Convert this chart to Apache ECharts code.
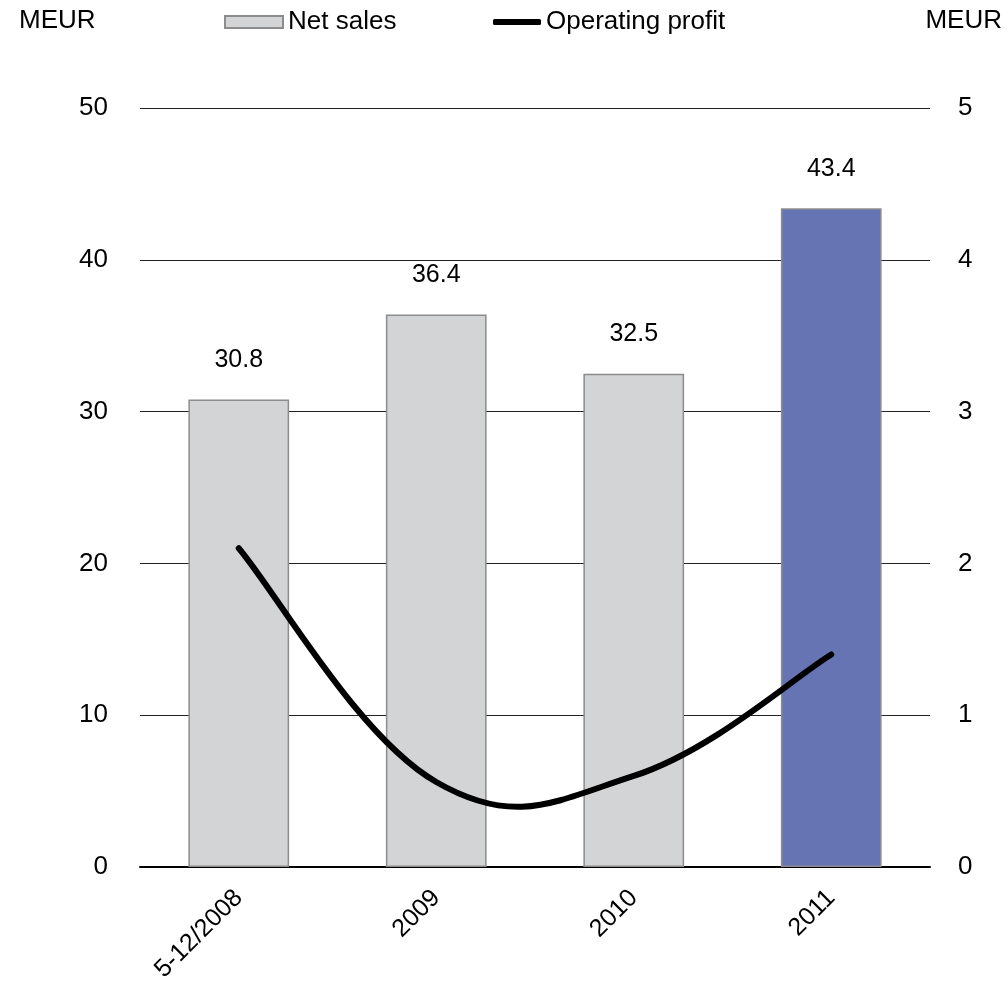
<!DOCTYPE html>
<html>
<head>
<meta charset="utf-8">
<script src="https://cdn.jsdelivr.net/npm/echarts@6/dist/echarts.min.js"></script>
<style>
  html, body { margin: 0; padding: 0; background: #fff; }
  #chart { width: 1008px; height: 985px; }
</style>
</head>
<body>
<div id="chart"></div>
<script>
// Net sales (left axis) and operating profit (right axis), MEUR
const categories = ['5-12/2008', '2009', '2010', '2011'];
const netSales = [30.8, 36.4, 32.5, 43.4];
const operatingProfit = [2.1, 0.56, 0.6, 1.4];
const leftTicks = { min: 0, max: 50, interval: 10 };
const rightTicks = { min: 0, max: 5, interval: 1 };

const FONT = '"Liberation Sans", Arial, sans-serif';
const BAR_GREY = '#d3d4d6';
const BAR_BLUE = '#6674b4';
const BAR_EDGE = '#8c8c8c';
const TENSION = 0.2;

// the latest year is drawn in blue, the rest in grey
const barData = netSales.map((v, i) => ({
  value: v,
  itemStyle: { color: i === netSales.length - 1 ? BAR_BLUE : BAR_GREY }
}));

// Smooth curve through the profit points (cardinal spline),
// built from pixel positions given by the cartesian coordinate system.
function smoothPath(pts) {
  let d = 'M' + pts[0][0] + ' ' + pts[0][1];
  for (let i = 0; i < pts.length - 1; i++) {
    const p0 = pts[Math.max(i - 1, 0)];
    const p1 = pts[i];
    const p2 = pts[i + 1];
    const p3 = pts[Math.min(i + 2, pts.length - 1)];
    const c1x = p1[0] + (p2[0] - p0[0]) * TENSION;
    const c1y = p1[1] + (p2[1] - p0[1]) * TENSION;
    const c2x = p2[0] - (p3[0] - p1[0]) * TENSION;
    const c2y = p2[1] - (p3[1] - p1[1]) * TENSION;
    d += ' C' + c1x + ' ' + c1y + ' ' + c2x + ' ' + c2y + ' ' + p2[0] + ' ' + p2[1];
  }
  return d;
}

const chart = echarts.init(document.getElementById('chart'), null, { renderer: 'canvas' });

chart.setOption({
  animation: false,
  backgroundColor: '#fff',
  textStyle: { fontFamily: FONT, color: '#000' },
  grid: { left: 140, right: 78, top: 108, bottom: 118, containLabel: false },
  legend: [
    {
      data: ['Net sales'],
      left: 224, top: 9, padding: 0,
      itemWidth: 58, itemHeight: 12,
      icon: 'rect',
      textStyle: { fontFamily: FONT, fontSize: 26, color: '#000' },
      selectedMode: false
    },
    {
      data: ['Operating profit'],
      left: 493, top: 9, padding: 0,
      itemWidth: 48, itemHeight: 6,
      icon: 'roundRect',
      itemStyle: { color: '#000', borderWidth: 0 },
      textStyle: { fontFamily: FONT, fontSize: 26, color: '#000' },
      selectedMode: false
    }
  ],
  graphic: [
    { type: 'text', left: 19, top: 8, style: { text: 'MEUR', font: '26px ' + FONT, fill: '#000' } },
    { type: 'text', right: 6, top: 8, style: { text: 'MEUR', font: '26px ' + FONT, fill: '#000' } }
  ],
  xAxis: {
    type: 'category',
    data: categories,
    axisLine: { show: true, lineStyle: { color: '#000', width: 2 } },
    axisTick: { show: false },
    axisLabel: {
      rotate: 45, margin: 27, fontFamily: FONT, fontSize: 25, color: '#000'
    }
  },
  yAxis: [
    {
      type: 'value',
      min: leftTicks.min, max: leftTicks.max, interval: leftTicks.interval,
      axisLine: { show: false },
      axisTick: { show: false },
      axisLabel: { margin: 32, fontFamily: FONT, fontSize: 26, color: '#000' },
      splitLine: { show: true, lineStyle: { color: '#222', width: 1 } }
    },
    {
      type: 'value',
      min: rightTicks.min, max: rightTicks.max, interval: rightTicks.interval,
      position: 'right',
      axisLine: { show: false },
      axisTick: { show: false },
      axisLabel: { margin: 28, fontFamily: FONT, fontSize: 26, color: '#000' },
      splitLine: { show: false }
    }
  ],
  series: [
    {
      name: 'Net sales',
      type: 'bar',
      yAxisIndex: 0,
      data: barData,
      barWidth: '51%',
      itemStyle: { color: BAR_GREY, borderColor: BAR_EDGE, borderWidth: 1.5 },
      label: {
        show: true, position: 'top', distance: 27,
        fontFamily: FONT, fontSize: 25, color: '#000',
        formatter: p => p.value.toFixed(1)
      },
      z: 2
    },
    {
      name: 'Operating profit',
      type: 'custom',
      coordinateSystem: 'cartesian2d',
      yAxisIndex: 1,
      data: operatingProfit.map((v, i) => [i, v]),
      encode: { x: 0, y: 1 },
      itemStyle: { color: '#000' },
      renderItem: (params, api) => {
        if (params.dataIndex !== 0) return null;
        const pts = operatingProfit.map((v, i) => api.coord([i, v]));
        return {
          type: 'path',
          shape: { pathData: smoothPath(pts) },
          style: { stroke: '#000', lineWidth: 6, fill: null, lineCap: 'round', lineJoin: 'round' }
        };
      },
      z: 3
    }
  ]
});
</script>
</body>
</html>
